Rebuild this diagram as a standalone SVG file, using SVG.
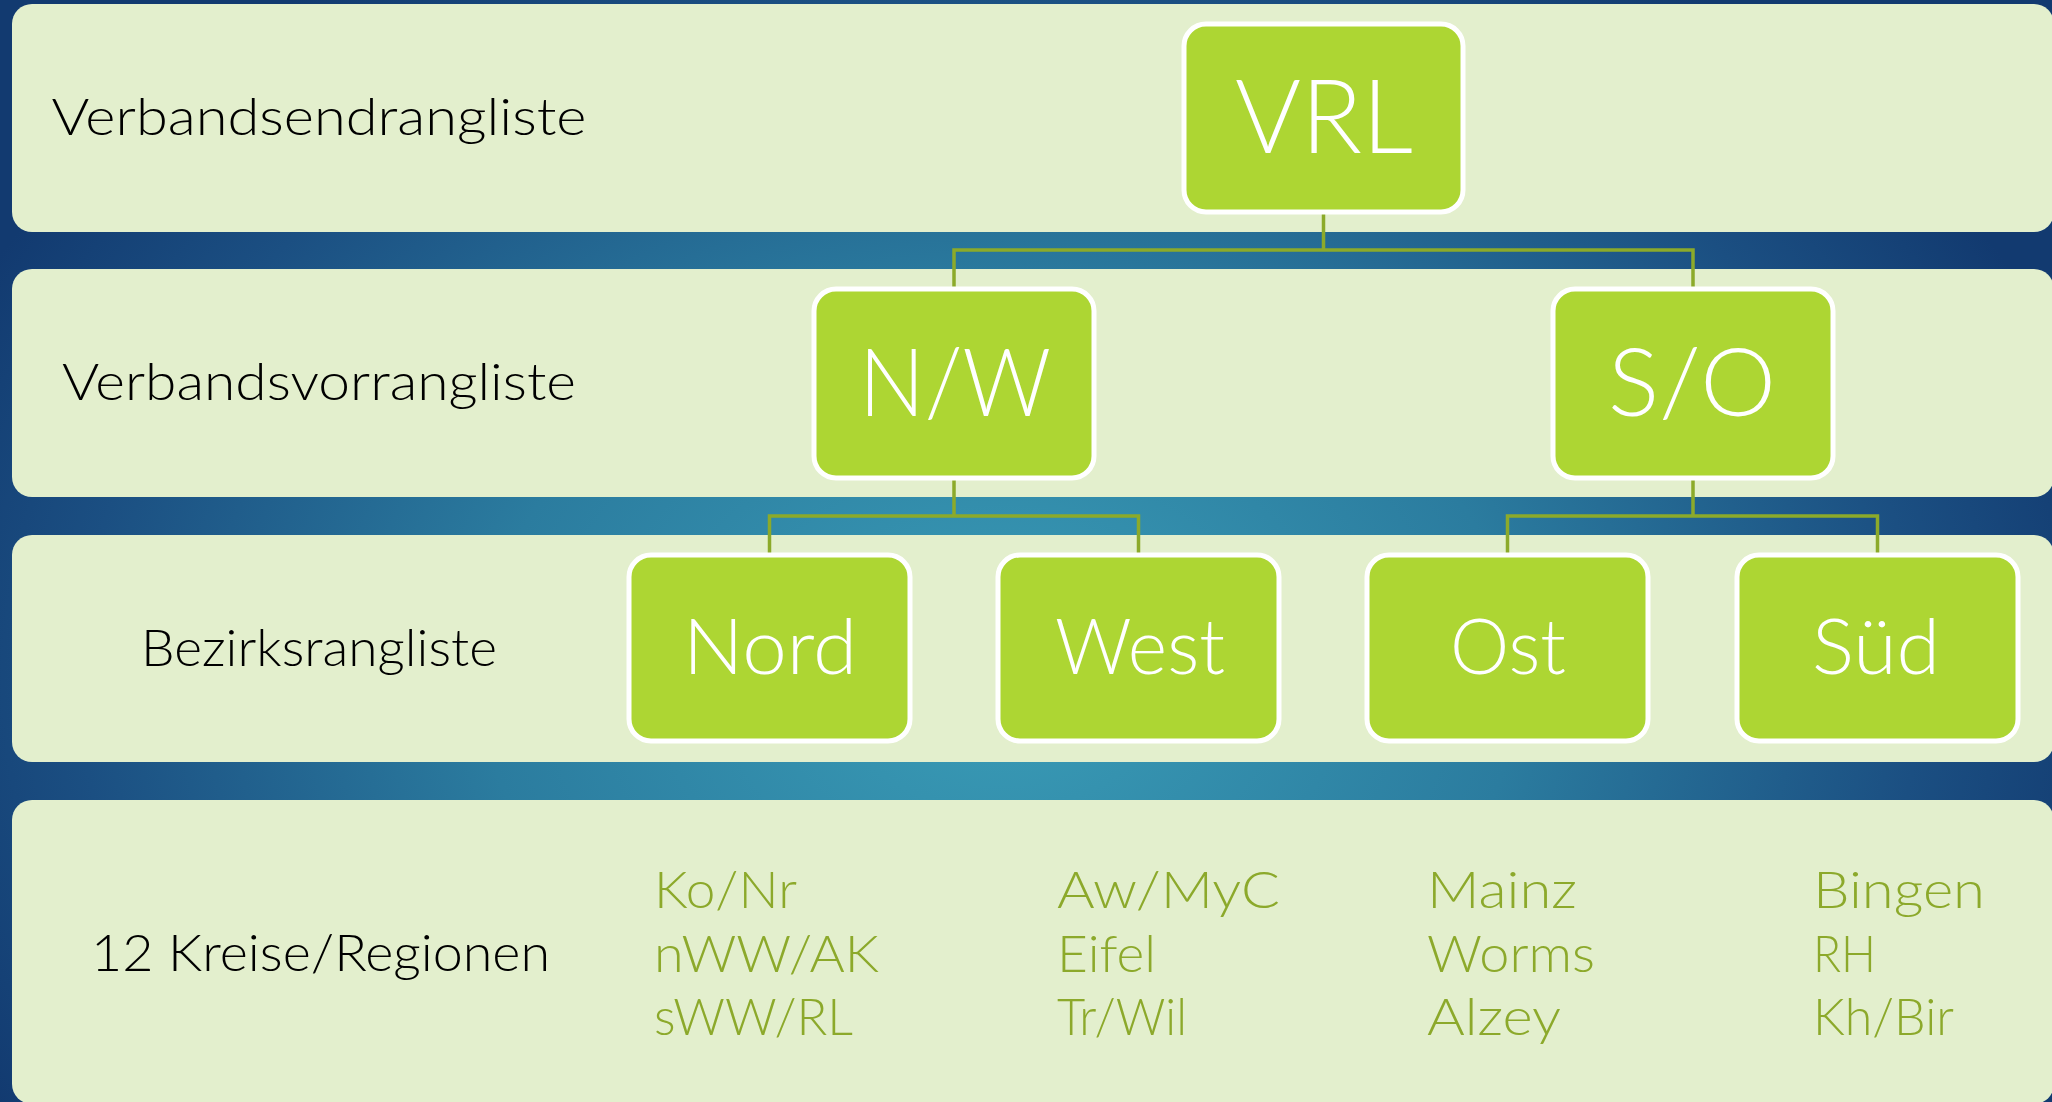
<svg xmlns="http://www.w3.org/2000/svg" width="2052" height="1102" viewBox="0 0 2052 1102">
<defs>
<radialGradient id="bg" gradientUnits="userSpaceOnUse" cx="1000" cy="680" r="1150" gradientTransform="translate(1000 680) scale(1 0.75) translate(-1000 -680)">
<stop offset="0" stop-color="#3A9DB7"/>
<stop offset="0.45" stop-color="#2B7C9F"/>
<stop offset="0.8" stop-color="#1B4F82"/>
<stop offset="1" stop-color="#123A70"/>
</radialGradient>
<style>
.band{fill:#E3EFCD}
.node rect{fill:#ADD633;stroke:#FFFFFF;stroke-width:5}
.node text{fill:#FFFFFF;font-family:"Lato","DejaVu Sans","Liberation Sans",sans-serif;font-weight:300;text-anchor:middle}
.lbl{fill:#000000;font-family:"Lato","DejaVu Sans","Liberation Sans",sans-serif;font-weight:300;font-size:51px;text-anchor:middle}
.sub{fill:#8CA92B;font-family:"Lato","DejaVu Sans","Liberation Sans",sans-serif;font-weight:300;font-size:52px}
.conn{fill:none;stroke:#8CAA2A;stroke-width:3.5}
</style>
</defs>
<rect x="0" y="0" width="2052" height="1102" fill="url(#bg)"/>
<g id="bands">
<rect class="band" x="12" y="4" width="2042" height="228" rx="20"/>
<rect class="band" x="12" y="269" width="2042" height="228" rx="20"/>
<rect class="band" x="12" y="535" width="2042" height="227" rx="20"/>
<rect class="band" x="12" y="800" width="2042" height="304" rx="20"/>
</g>
<g id="labels">
<text class="lbl" x="319" y="135" textLength="535" lengthAdjust="spacingAndGlyphs">Verbandsendrangliste</text>
<text class="lbl" x="319" y="400" textLength="514" lengthAdjust="spacingAndGlyphs">Verbandsvorrangliste</text>
<text class="lbl" x="319" y="666" textLength="356" lengthAdjust="spacingAndGlyphs">Bezirksrangliste</text>
<text class="lbl" x="320.5" y="971" textLength="459" lengthAdjust="spacingAndGlyphs">12 Kreise/Regionen</text>
</g>
<g id="connectors">
<path class="conn" d="M1323.5 214 V250 M954 287 V250 H1693 V287"/>
<path class="conn" d="M954 480 V516 M769.5 553 V516 H1138.5 V553"/>
<path class="conn" d="M1693 480 V516 M1507.5 553 V516 H1877.5 V553"/>
</g>
<g id="node-vrl" class="node">
<rect x="1184" y="24" width="279" height="188" rx="22"/>
<text x="1324" y="153" font-size="103" textLength="178" lengthAdjust="spacingAndGlyphs">VRL</text>
</g>
<g id="node-nw" class="node">
<rect x="814" y="289" width="280" height="189" rx="22"/>
<text x="955" y="416" font-size="95" textLength="192" lengthAdjust="spacingAndGlyphs">N/W</text>
</g>
<g id="node-so" class="node">
<rect x="1553" y="289" width="280" height="189" rx="22"/>
<text x="1692" y="416" font-size="95" textLength="168" lengthAdjust="spacingAndGlyphs">S/O</text>
</g>
<g id="node-nord" class="node">
<rect x="629" y="555" width="281" height="186" rx="22"/>
<text x="770" y="674" font-size="77" textLength="174" lengthAdjust="spacingAndGlyphs">Nord</text>
</g>
<g id="node-west" class="node">
<rect x="998" y="555" width="281" height="186" rx="22"/>
<text x="1140" y="674" font-size="77" textLength="170" lengthAdjust="spacingAndGlyphs">West</text>
</g>
<g id="node-ost" class="node">
<rect x="1367" y="555" width="281" height="186" rx="22"/>
<text x="1508" y="674" font-size="77" textLength="116" lengthAdjust="spacingAndGlyphs">Ost</text>
</g>
<g id="node-sued" class="node">
<rect x="1737" y="555" width="281" height="186" rx="22"/>
<text x="1876" y="674" font-size="77" textLength="128" lengthAdjust="spacingAndGlyphs">Süd</text>
</g>
<g id="regions">
<text class="sub" x="654" y="908" textLength="143" lengthAdjust="spacingAndGlyphs">Ko/Nr</text>
<text class="sub" x="654" y="972" textLength="225" lengthAdjust="spacingAndGlyphs">nWW/AK</text>
<text class="sub" x="654" y="1035" textLength="199" lengthAdjust="spacingAndGlyphs">sWW/RL</text>
<text class="sub" x="1057" y="908" textLength="223" lengthAdjust="spacingAndGlyphs">Aw/MyC</text>
<text class="sub" x="1057" y="972" textLength="99" lengthAdjust="spacingAndGlyphs">Eifel</text>
<text class="sub" x="1057" y="1035" textLength="130" lengthAdjust="spacingAndGlyphs">Tr/Wil</text>
<text class="sub" x="1427" y="908" textLength="150" lengthAdjust="spacingAndGlyphs">Mainz</text>
<text class="sub" x="1427" y="972" textLength="168" lengthAdjust="spacingAndGlyphs">Worms</text>
<text class="sub" x="1427" y="1035" textLength="134" lengthAdjust="spacingAndGlyphs">Alzey</text>
<text class="sub" x="1813" y="908" textLength="172" lengthAdjust="spacingAndGlyphs">Bingen</text>
<text class="sub" x="1813" y="972" textLength="63" lengthAdjust="spacingAndGlyphs">RH</text>
<text class="sub" x="1813" y="1035" textLength="141" lengthAdjust="spacingAndGlyphs">Kh/Bir</text>
</g>
</svg>
